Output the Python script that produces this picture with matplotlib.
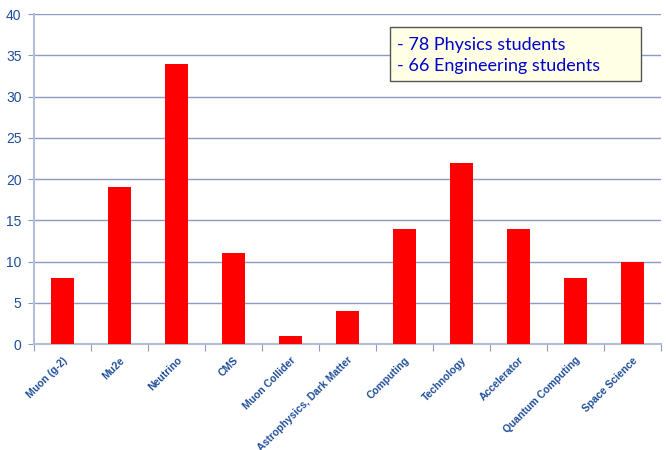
import numpy as np
import matplotlib.pyplot as plt
from matplotlib.patches import Rectangle

categories = ['Muon (g-2)', 'Mu2e', 'Neutrino', 'CMS', 'Muon Collider',
              'Astrophysics, Dark Matter', 'Computing', 'Technology',
              'Accelerator', 'Quantum Computing', 'Space Science']
counts = [8, 19, 34, 11, 1, 4, 14, 22, 14, 8, 10]
note_lines = ['- 78 Physics students', '- 66 Engineering students']

label_color = '#1F4E99'
grid_color = '#8C9AC2'

W, H = 666, 450
fig = plt.figure(figsize=(W / 100, H / 100), dpi=100)
ax = fig.add_axes([34 / W, 1 - 344 / H, 627 / W, 330 / H])

x = np.arange(len(categories))
ax.bar(x, counts, width=0.4, color='#FF0000', zorder=3)

ax.set_xlim(-0.5, len(categories) - 0.5)
ax.set_ylim(0, 40)
ax.set_yticks(np.arange(0, 41, 5))
ax.yaxis.grid(True, color=grid_color, linewidth=1, zorder=0)
ax.tick_params(axis='y', length=4, color=grid_color, labelcolor=label_color,
               labelsize=10, pad=5)

# category separators as ticks, labels at centres
ax.set_xticks(np.arange(len(categories) + 1) - 0.5)
ax.set_xticklabels([])
ax.set_xticks(x, minor=True)
ax.set_xticklabels(categories, minor=True, rotation=45, ha='right',
                   rotation_mode='anchor', fontsize=7.5, fontweight='bold',
                   color=label_color, family='Liberation Sans')
ax.tick_params(axis='x', which='major', length=5, color=grid_color)
ax.tick_params(axis='x', which='minor', length=0, pad=8)

for side in ['top', 'right']:
    ax.spines[side].set_visible(False)
for side in ['left', 'bottom']:
    ax.spines[side].set_color('#B4BDD6')
    ax.spines[side].set_linewidth(1.5)

for t in ax.get_yticklabels():
    t.set_family('Liberation Sans')

# note box
fig.patches.append(Rectangle((390 / W, 1 - 81 / H), 251 / W, 54 / H,
                             transform=fig.transFigure, facecolor='#FFFFE5',
                             edgecolor='#555555', linewidth=1, zorder=5))
for i, line in enumerate(note_lines):
    fig.text(397 / W, 1 - (45 + 21 * i) / H, line, fontsize=13,
             color='#0000CC', family='Lato', va='center', ha='left', zorder=6)

fig.savefig('out.png', dpi=100)
